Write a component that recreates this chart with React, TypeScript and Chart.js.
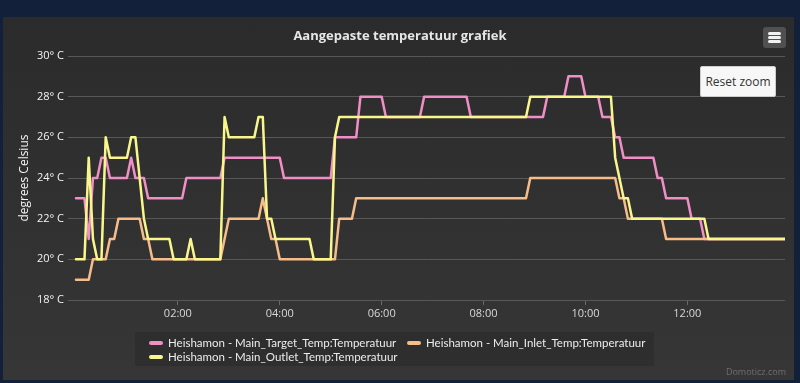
import React, { useEffect, useRef } from "react";
import { Chart, registerables } from "chart.js";

Chart.register(...registerables);

// minutes after midnight / degrees Celsius
const targetTimes = [0, 10, 15, 20, 25, 30, 35, 40, 60, 65, 70, 80, 85, 125, 130, 170, 175, 240, 245, 300, 305, 330, 335, 360, 365, 405, 410, 460, 465, 550, 555, 575, 580, 595, 600, 615, 620, 630, 635, 640, 645, 680, 685, 690, 695, 720, 725, 735, 740, 835];
const targetValues = [23, 23, 21, 24, 24, 25, 25, 24, 24, 25, 24, 24, 23, 23, 24, 24, 25, 25, 24, 24, 26, 26, 28, 28, 27, 27, 28, 28, 27, 27, 28, 28, 29, 29, 28, 28, 27, 27, 26, 26, 25, 25, 24, 24, 23, 23, 22, 22, 21, 21];

const inletTimes = [0, 15, 20, 35, 40, 45, 50, 75, 80, 85, 90, 170, 180, 215, 220, 225, 230, 235, 240, 305, 310, 325, 330, 530, 535, 635, 640, 645, 650, 690, 695, 835];
const inletValues = [19, 19, 20, 20, 21, 21, 22, 22, 21, 21, 20, 20, 22, 22, 23, 22, 21, 21, 20, 20, 22, 22, 23, 23, 24, 24, 23, 23, 22, 22, 21, 21];

const outletTimes = [0, 10, 15, 20, 25, 30, 35, 40, 60, 65, 70, 80, 85, 110, 115, 130, 135, 140, 170, 175, 180, 210, 215, 220, 225, 230, 235, 275, 280, 300, 305, 310, 530, 535, 630, 635, 645, 650, 655, 740, 745, 835];
const outletValues = [20, 20, 25, 21, 20, 20, 26, 25, 25, 26, 26, 22, 21, 21, 20, 20, 21, 20, 20, 27, 26, 26, 27, 27, 22, 22, 21, 21, 20, 20, 26, 27, 27, 28, 28, 25, 23, 23, 22, 22, 21, 21];

const seriesNames = [
  "Heishamon - Main_Target_Temp:Temperatuur",
  "Heishamon - Main_Inlet_Temp:Temperatuur",
  "Heishamon - Main_Outlet_Temp:Temperatuur",
];
const seriesColors = ["#f08ec6", "#f6bd8b", "#f9f78c"];

const xTickMinutes = [120, 240, 360, 480, 600, 720];
const xTickLabels = ["02:00", "04:00", "06:00", "08:00", "10:00", "12:00"];
const yTickValues = [18, 20, 22, 24, 26, 28, 30];

const FONT = "'Open Sans', 'DejaVu Sans', sans-serif";
const LEGEND_FONT = "Lato, 'Open Sans', sans-serif";

function toPoints(times: number[], values: number[]) {
  return times.map((t, i) => ({ x: t, y: values[i] }));
}

export default function App() {
  const canvasRef = useRef<HTMLCanvasElement | null>(null);

  useEffect(() => {
    const canvas = canvasRef.current;
    if (!canvas) return;
    Chart.defaults.font.family = FONT;
    const chart = new Chart(canvas, {
      type: "line",
      data: {
        datasets: [
          { label: seriesNames[0], data: toPoints(targetTimes, targetValues), borderColor: seriesColors[0], backgroundColor: seriesColors[0], order: 3 },
          { label: seriesNames[1], data: toPoints(inletTimes, inletValues), borderColor: seriesColors[1], backgroundColor: seriesColors[1], order: 2 },
          { label: seriesNames[2], data: toPoints(outletTimes, outletValues), borderColor: seriesColors[2], backgroundColor: seriesColors[2], order: 1 },
        ],
      },
      options: {
        responsive: false,
        animation: false,
        devicePixelRatio: 1,
        layout: { padding: { left: 0, right: 9, top: 39, bottom: 50 } },
        plugins: {
          legend: { display: false },
          title: { display: false },
          tooltip: { enabled: false },
        },
        elements: {
          point: { radius: 0, hoverRadius: 0 },
          line: { tension: 0, borderWidth: 2.5, borderJoinStyle: "round", borderCapStyle: "round", fill: false },
        },
        scales: {
          x: {
            type: "linear",
            min: -9.4,
            max: 835,
            afterBuildTicks: (s: any) => {
              s.ticks = xTickMinutes.map((v) => ({ value: v }));
            },
            afterFit: (s: any) => {
              s.height = 30;
            },
            ticks: {
              autoSkip: false,
              maxRotation: 0,
              padding: 2,
              color: "#d8d8d8",
              font: { size: 11, family: FONT },
              callback: (v: any) => {
                const i = xTickMinutes.indexOf(Number(v));
                return i >= 0 ? xTickLabels[i] : "";
              },
            },
            grid: { display: true, drawOnChartArea: false, drawTicks: true, tickLength: 5, color: "#6a6a6a" },
            border: { display: false },
          },
          y: {
            min: 18,
            max: 30,
            afterBuildTicks: (s: any) => {
              s.ticks = yTickValues.map((v) => ({ value: v }));
            },
            afterFit: (s: any) => {
              s.width = 65;
            },
            ticks: {
              padding: 4,
              color: "#f4f4f4",
              font: { size: 11, family: FONT },
              callback: (v: any) => `${v}° C`,
            },
            grid: { color: "#585858", drawTicks: false, lineWidth: 1 },
            border: { display: false },
            title: {
              display: true,
              text: "degrees Celsius",
              color: "#f4f4f4",
              font: { size: 12, family: FONT },
              padding: { top: 14, bottom: 0 },
            },
          },
        },
      },
    });
    return () => chart.destroy();
  }, []);

  const legendItems = [
    { name: seriesNames[0], color: seriesColors[0], left: 149, top: 343 },
    { name: seriesNames[1], color: seriesColors[1], left: 407, top: 343 },
    { name: seriesNames[2], color: seriesColors[2], left: 149, top: 357 },
  ];

  return (
    <div style={{ position: "fixed", left: 0, top: 0, width: 800, height: 383, background: "#132039", overflow: "hidden", fontFamily: FONT }}>
      <div style={{ position: "absolute", left: 3, top: 17, width: 791, height: 363, background: "linear-gradient(#2b2b2b, #363636)" }}>
        <canvas ref={canvasRef} width={791} height={363} style={{ display: "block", width: 791, height: 363 }} />
      </div>
      <div style={{ position: "absolute", left: 0, width: 800, top: 25, textAlign: "center", color: "#e6e6e6", fontSize: 13, fontWeight: 700, lineHeight: "20px" }}>
        Aangepaste temperatuur grafiek
      </div>
      <div style={{ position: "absolute", left: 763, top: 27, width: 23, height: 21, background: "#505050", borderRadius: 3 }}>
        {[5, 9, 13].map((t) => (
          <div key={t} style={{ position: "absolute", left: 5, top: t, width: 13, height: 3, background: "#f2f2f2", borderRadius: 1.5 }} />
        ))}
      </div>
      <div style={{ position: "absolute", left: 700, top: 66, width: 76, height: 31, boxSizing: "border-box", background: "#f7f7f7", border: "1px solid #cccccc", borderRadius: 2, color: "#333", fontSize: 12, lineHeight: "29px", textAlign: "center" }}>
        Reset zoom
      </div>
      <div style={{ position: "absolute", left: 135, top: 332, width: 519, height: 34, background: "rgba(0,0,0,0.13)" }} />
      {legendItems.map((it) => (
        <React.Fragment key={it.name}>
          <div style={{ position: "absolute", left: it.left, top: it.top - 2, width: 14, height: 4, borderRadius: 2, background: it.color }} />
          <div style={{ position: "absolute", left: it.left + 19, top: it.top - 8, height: 16, lineHeight: "16px", fontSize: 11.5, fontFamily: LEGEND_FONT, color: "#ececec", whiteSpace: "nowrap" }}>
            {it.name}
          </div>
        </React.Fragment>
      ))}
      <div style={{ position: "absolute", right: 14, top: 366, fontSize: 9, color: "#6f6f6f", lineHeight: "12px" }}>Domoticz.com</div>
    </div>
  );
}
